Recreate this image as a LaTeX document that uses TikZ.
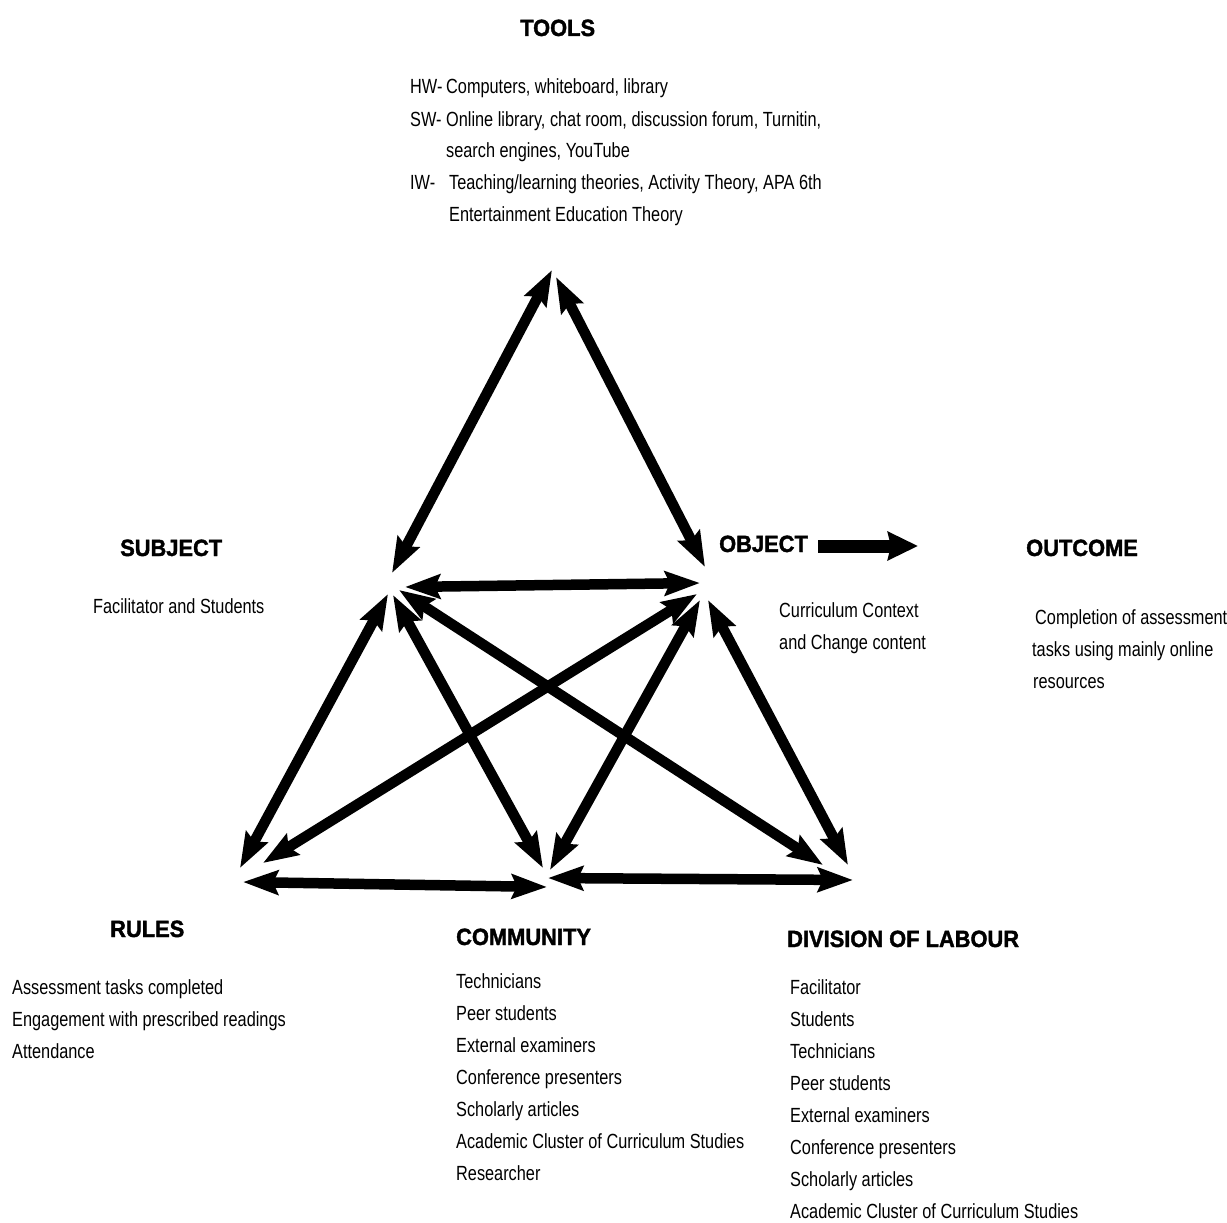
\documentclass[tikz,border=0pt]{standalone}
\usepackage{fontspec}
\setmainfont{Liberation Sans}[FakeStretch=0.795]
\newfontfamily\titlefont{Liberation Sans}[FakeStretch=0.93, BoldFeatures={FakeBold=1.6}]
\usetikzlibrary{arrows.meta}
\begin{document}
\begin{tikzpicture}[x=1pt,y=-1pt,
  body/.style={anchor=base west, inner sep=0pt, font=\fontsize{20.5}{24}\selectfont},
  title/.style={anchor=base west, inner sep=0pt, font=\titlefont\bfseries\fontsize{23.5}{26}\selectfont},
  link/.style={line width=10.5pt, {Stealth[length=35pt,width=24pt,inset=5pt]}-{Stealth[length=35pt,width=24pt,inset=5pt]}},
  oneway/.style={line width=13pt, -{Stealth[length=30pt,width=28pt,inset=3pt]}}]
\useasboundingbox (0,0) rectangle (1227,1223);

% ---------- titles ----------
\node[title] (tools) at (520,36) {TOOLS};
\node[title] (subject) at (120,556) {SUBJECT};
\node[title] (object) at (719,552) {OBJECT};
\node[title] (outcome) at (1026,556) {OUTCOME};
\node[title] (rules) at (110,937) {RULES};
\node[title] (community) at (456,945) {COMMUNITY};
\node[title] (division) at (787,947) {DIVISION OF LABOUR};

% ---------- tools text ----------
\node[body] (hw) at (410,94) {HW-};
\node[body] (hwt) at (446,94) {Computers, whiteboard, library};
\node[body] (sw) at (410,126) {SW-};
\node[body] (swt) at (446,126) {Online library, chat room, discussion forum, Turnitin,};
\node[body] (swt2) at (446,157) {search engines, YouTube};
\node[body] (iw) at (410,189) {IW-};
\node[body] (iwt) at (449,189) {Teaching/learning theories, Activity Theory, APA 6th};
\node[body] (iwt2) at (449,221) {Entertainment Education Theory};

% ---------- subject / object / outcome text ----------
\node[body] (subt) at (93,613) {Facilitator and Students};
\node[body] (objt1) at (779,617) {Curriculum Context};
\node[body] (objt2) at (779,649) {and Change content};
\node[body] (outt1) at (1035,624) {Completion of assessment};
\node[body] (outt2) at (1032,656) {tasks using mainly online};
\node[body] (outt3) at (1033,688) {resources};

% ---------- lists ----------
\foreach \t [count=\i from 0] in {Assessment tasks completed, Engagement with prescribed readings, Attendance}
  \node[body, name=rul\i] at (12,994+32*\i) {\t};
\foreach \t [count=\i from 0] in {Technicians, Peer students, External examiners, Conference presenters, Scholarly articles, Academic Cluster of Curriculum Studies, Researcher}
  \node[body, name=com\i] at (456,988+32.15*\i) {\t};
\foreach \t [count=\i from 0] in {Facilitator, Students, Technicians, Peer students, External examiners, Conference presenters, Scholarly articles, Academic Cluster of Curriculum Studies}
  \node[body, name=div\i] at (790,994+32.14*\i) {\t};

% ---------- arrow end points ----------
\coordinate (TtoS) at (552,270);  \coordinate (StoT) at (392,573);
\coordinate (TtoO) at (556,277);  \coordinate (OtoT) at (705,567);
\coordinate (StoO) at (405,587);  \coordinate (OtoS) at (700,583);
\coordinate (StoR) at (388,594);  \coordinate (RtoS) at (240,868);
\coordinate (StoC) at (393,595);  \coordinate (CtoS) at (543,868);
\coordinate (StoD) at (399,590);  \coordinate (DtoS) at (823,865);
\coordinate (OtoR) at (697,594);  \coordinate (RtoO) at (263,863);
\coordinate (OtoC) at (700,600);  \coordinate (CtoO) at (550,870);
\coordinate (OtoD) at (708,600);  \coordinate (DtoO) at (848,865);
\coordinate (RtoC) at (243,882);  \coordinate (CtoR) at (547,887);
\coordinate (CtoD) at (548,878);  \coordinate (DtoC) at (853,880);
\coordinate (arrA) at (818,546);  \coordinate (arrB) at (918,546);

% ---------- arrows ----------
\draw[link] (TtoS) -- (StoT);
\draw[link] (TtoO) -- (OtoT);
\draw[link] (StoO) -- (OtoS);
\draw[link] (StoR) -- (RtoS);
\draw[link] (StoC) -- (CtoS);
\draw[link] (StoD) -- (DtoS);
\draw[link] (OtoR) -- (RtoO);
\draw[link] (OtoC) -- (CtoO);
\draw[link] (OtoD) -- (DtoO);
\draw[link] (RtoC) -- (CtoR);
\draw[link] (CtoD) -- (DtoC);
\draw[oneway] (arrA) -- (arrB);
\end{tikzpicture}
\end{document}
